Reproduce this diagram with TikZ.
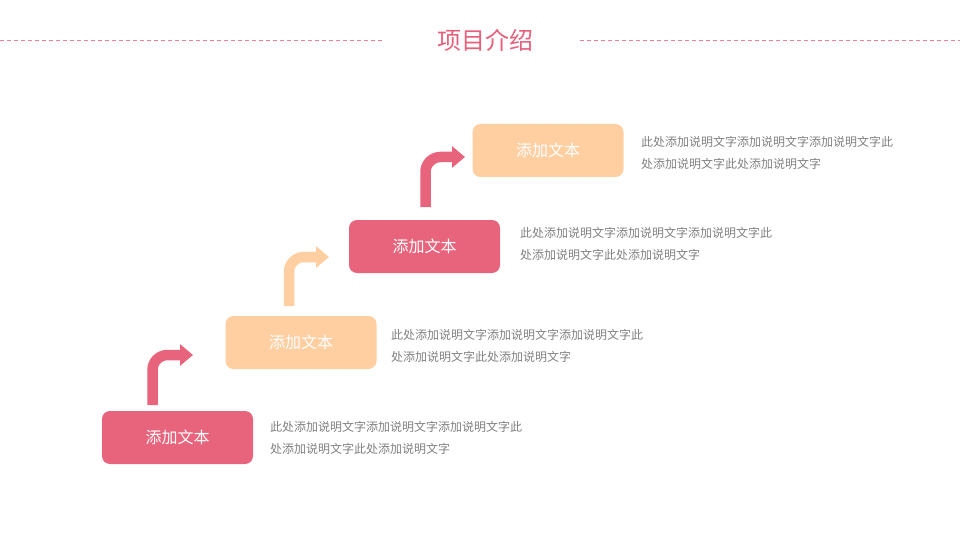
\documentclass[tikz,border=0pt]{standalone}
\usepackage{fontspec}
\setmainfont{Noto Sans CJK SC}
\usetikzlibrary{arrows.meta}
\definecolor{pinkc}{HTML}{E8637C}
\definecolor{peachc}{HTML}{FFCFA2}
\definecolor{descc}{HTML}{808080}
\definecolor{titlec}{HTML}{E5607B}
\tikzset{
  stepbox/.style={rounded corners=8pt, minimum width=151pt, minimum height=53pt, inner sep=0pt, text=white, font=\fontsize{16}{18}\selectfont},
  pinkbox/.style={stepbox, fill=pinkc},
  peachbox/.style={stepbox, fill=peachc},
  desc/.style={anchor=west, text=descc, align=left, inner sep=0pt, font=\fontsize{12}{22}\selectfont},
  uparrow/.style={line width=10.5pt, rounded corners=15pt, -{Triangle[width=21pt,length=13pt]}},
  dashline/.style={draw=titlec!80, line width=0.7pt, dash pattern=on 4pt off 3pt}
}
\begin{document}
\begin{tikzpicture}[x=1pt,y=-1pt]
\useasboundingbox (0,0) rectangle (960,540);
\node (title) at (485,40) {\fontsize{24}{26}\selectfont\color{titlec}项目介绍};
\coordinate (dl0) at (0,40); \coordinate (dl1) at (382,40);
\coordinate (dr0) at (580,40); \coordinate (dr1) at (960,40);
\draw[dashline] (dl0) -- (dl1);
\draw[dashline] (dr0) -- (dr1);

\node[pinkbox]  (b1) at (177.5,437.5) {添加文本};
\node[peachbox] (b2) at (301,342.5) {添加文本};
\node[pinkbox]  (b3) at (424.5,246.5) {添加文本};
\node[peachbox] (b4) at (548,150.5) {添加文本};

\node[desc] (d1) at (270,438) {此处添加说明文字添加说明文字添加说明文字此\\处添加说明文字此处添加说明文字};
\node[desc] (d2) at (391,346) {此处添加说明文字添加说明文字添加说明文字此\\处添加说明文字此处添加说明文字};
\node[desc] (d3) at (520,244) {此处添加说明文字添加说明文字添加说明文字此\\处添加说明文字此处添加说明文字};
\node[desc] (d4) at (641,153) {此处添加说明文字添加说明文字添加说明文字此\\处添加说明文字此处添加说明文字};

\coordinate (a1s) at (152.5,405); \coordinate (a1e) at (193,355);
\coordinate (a2s) at (289,306);   \coordinate (a2e) at (329,257);
\coordinate (a3s) at (425.5,207); \coordinate (a3e) at (465,157);
\draw[uparrow, draw=pinkc] (a1s) |- (a1e);
\draw[uparrow, draw=peachc] (a2s) |- (a2e);
\draw[uparrow, draw=pinkc] (a3s) |- (a3e);
\end{tikzpicture}
\end{document}
